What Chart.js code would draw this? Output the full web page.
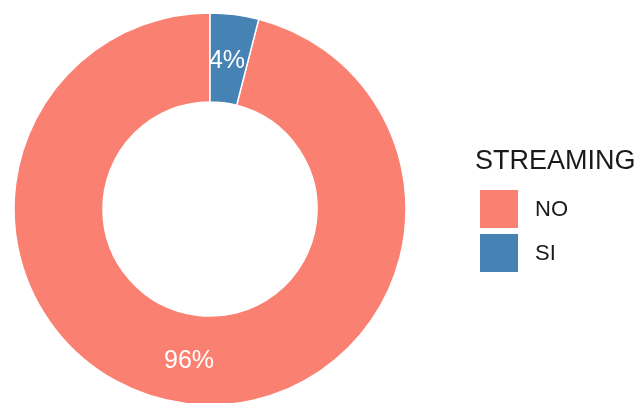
<!DOCTYPE html>
<html>
<head>
<meta charset="utf-8">
<script src="https://cdn.jsdelivr.net/npm/chart.js@4/dist/chart.umd.min.js"></script>
<style>
  html, body { margin: 0; padding: 0; background: #fff; }
  #wrap { width: 640px; height: 403px; }
</style>
</head>
<body>
<div id="wrap"><canvas id="myChart" width="640" height="403"></canvas></div>
<script>
// data
const legend_title = "STREAMING";
const categories = ["NO", "SI"];
const percent = [96, 4];
const colors = ["#FA8072", "#4682B4"];

// white percentage text in the middle of each slice
const sliceLabels = {
    id: "sliceLabels",
    afterDatasetsDraw(chart) {
        const ctx = chart.ctx;
        const meta = chart.getDatasetMeta(0);
        ctx.save();
        ctx.fillStyle = "#ffffff";
        ctx.font = "25px 'Liberation Sans', Arial, sans-serif";
        ctx.textAlign = "center";
        ctx.textBaseline = "middle";
        meta.data.forEach((arc, i) => {
            const p = arc.tooltipPosition();
            ctx.fillText(percent[i] + "%", p.x - 2, p.y + 2);
        });
        ctx.restore();
    }
};

// ggplot style legend on the right
const sideLegend = {
    id: "sideLegend",
    afterDraw(chart) {
        const ctx = chart.ctx;
        ctx.save();
        ctx.textBaseline = "middle";
        ctx.fillStyle = "#1a1a1a";
        ctx.font = "27px 'Liberation Sans', Arial, sans-serif";
        ctx.fillText(legend_title, 475, 162);
        ctx.font = "22px 'Liberation Sans', Arial, sans-serif";
        categories.forEach((c, i) => {
            const y = 190 + i * 44;
            ctx.fillStyle = colors[i];
            ctx.fillRect(480, y, 38, 38);
            ctx.fillStyle = "#1a1a1a";
            ctx.fillText(c, 535, y + 20);
        });
        ctx.restore();
    }
};

var context = document.getElementById("myChart").getContext("2d");
var myChart = new Chart(context, {
    type: "doughnut",
    data: {
        labels: categories,
        datasets: [{
            data: percent,
            backgroundColor: colors,
            borderColor: "#ffffff",
            borderWidth: 1.5
        }]
    },
    options: {
        responsive: false,
        animation: false,
        rotation: 360 * percent[1] / 100,
        radius: 196,
        cutout: "54.6%",
        layout: {
            padding: { left: 14, right: 234, top: 15, bottom: 0 }
        },
        plugins: {
            legend: { display: false },
            tooltip: { enabled: false }
        }
    },
    plugins: [sliceLabels, sideLegend]
});
</script>
</body>
</html>
